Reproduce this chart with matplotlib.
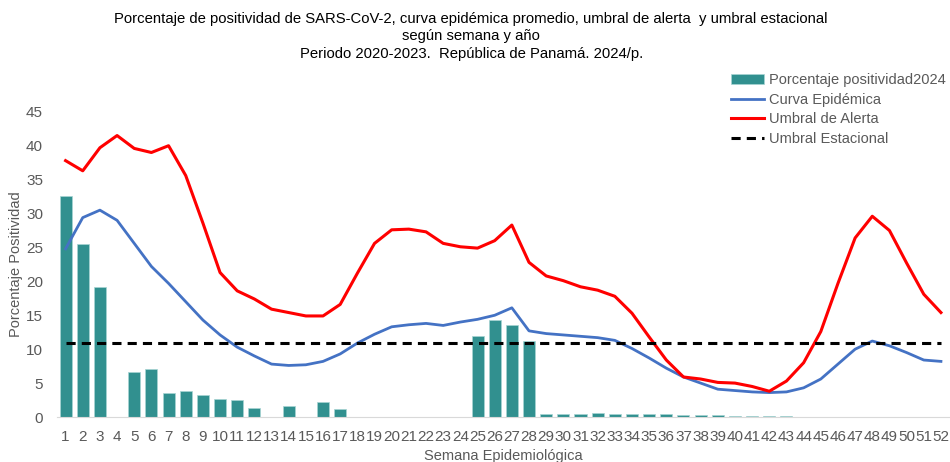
import numpy as np
import matplotlib.pyplot as plt

plt.rcParams['font.family'] = ['Liberation Sans', 'DejaVu Sans']

semanas = list(range(1, 53))

# Porcentaje positividad 2024 (barras)
positividad_2024 = [32.6, 25.5, 19.1, 0, 6.6, 7.1, 3.6, 3.9, 3.3, 2.7,
                    2.5, 1.4, 0, 1.6, 0, 2.2, 1.2, 0, 0, 0,
                    0, 0, 0, 0, 12.0, 14.3, 13.5, 11.2, 0.5, 0.5,
                    0.5, 0.6, 0.5, 0.5, 0.4, 0.4, 0.3, 0.3, 0.3, 0.2,
                    0.2, 0.2, 0.1, 0, 0, 0, 0, 0, 0, 0,
                    0, 0]

curva_epidemica = [24.8, 29.4, 30.5, 29.0, 25.6, 22.2, 19.7, 17.0, 14.3, 12.1,
                   10.3, 9.0, 7.8, 7.6, 7.7, 8.2, 9.3, 10.9, 12.2, 13.3,
                   13.6, 13.8, 13.5, 14.0, 14.4, 15.0, 16.1, 12.7, 12.3, 12.1,
                   11.9, 11.7, 11.3, 10.1, 8.7, 7.2, 5.9, 5.0, 4.1, 3.9,
                   3.7, 3.6, 3.7, 4.3, 5.6, 7.8, 10.0, 11.2, 10.5, 9.5,
                   8.4, 8.2]

umbral_alerta = [37.8, 36.3, 39.7, 41.5, 39.6, 39.0, 40.0, 35.6, 28.6, 21.3,
                 18.6, 17.4, 15.9, 15.4, 14.9, 14.9, 16.6, 21.2, 25.6, 27.6,
                 27.7, 27.3, 25.6, 25.1, 24.9, 26.0, 28.3, 22.8, 20.8, 20.1,
                 19.2, 18.7, 17.8, 15.3, 11.8, 8.4, 5.9, 5.6, 5.1, 5.0,
                 4.5, 3.8, 5.3, 8.0, 12.6, 19.7, 26.4, 29.6, 27.5, 22.7,
                 18.1, 15.4]

umbral_estacional = [10.9] * 52

fig = plt.figure(figsize=(9.5, 4.62), dpi=100)
ax = fig.add_axes([0.06, 0.0974, 0.9395, 0.6606])

barras = ax.bar(semanas, positividad_2024, width=0.7, color='#31908F',
                edgecolor='#a8d4d3', linewidth=0.5, label='Porcentaje positividad2024')
l1, = ax.plot(semanas, curva_epidemica, color='#4472C4', lw=2.0, label='Curva Epidémica')
l2, = ax.plot(semanas, umbral_alerta, color='#FF0000', lw=2.2, label='Umbral de Alerta')
l3, = ax.plot(semanas, umbral_estacional, color='black', lw=2.2,
              linestyle=(0, (3, 2)), label='Umbral Estacional')

ax.set_xlim(0.5, 52.5)
ax.set_ylim(0, 45)
ax.set_yticks(range(0, 46, 5))
ax.set_xticks(semanas)
ax.set_xticklabels([str(s) for s in semanas])
ax.tick_params(axis='both', length=0, labelsize=11, colors='#595959')
ax.tick_params(axis='x', pad=9)
ax.tick_params(axis='y', pad=10)
for side in ['top', 'right', 'left']:
    ax.spines[side].set_visible(False)
ax.spines['bottom'].set_color('#D9D9D9')

ax.set_xlabel('Semana Epidemiológica', fontsize=10.5, color='#595959', labelpad=4)
ax.set_ylabel('Porcentaje Positividad', fontsize=10.5, color='#595959')
ax.yaxis.set_label_coords(-0.038, 0.5)

fig.text(0.496, 0.975, 'Porcentaje de positividad de SARS-CoV-2, curva epidémica promedio, umbral de alerta  y umbral estacional\n'
         'según semana y año\nPeriodo 2020-2023.  República de Panamá. 2024/p.',
         ha='center', va='top', fontsize=10.75, linespacing=1.32)

fig.legend(handles=[barras, l1, l2, l3], loc='upper left',
           bbox_to_anchor=(0.763, 0.855), frameon=False,
           fontsize=10.5, labelcolor='#595959', handlelength=2.3,
           handletextpad=0.3, labelspacing=0.4, borderaxespad=0)

fig.savefig('out.png', dpi=100)
